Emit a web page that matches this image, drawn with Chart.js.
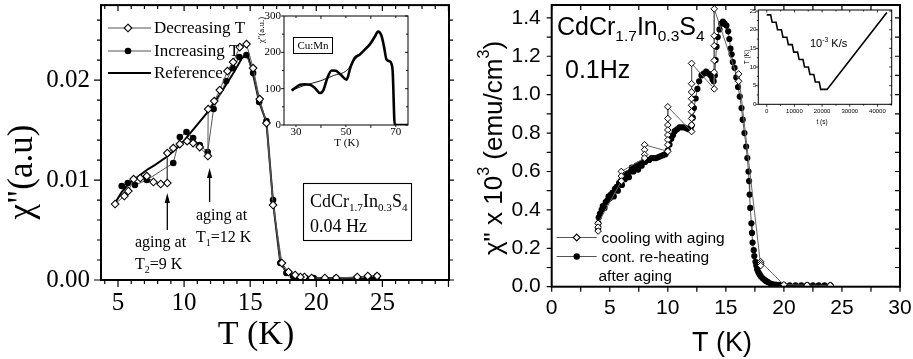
<!DOCTYPE html>
<html>
<head>
<meta charset="utf-8">
<script src="https://cdn.jsdelivr.net/npm/chart.js@4.4.1/dist/chart.umd.min.js"></script>
<style>
html,body{margin:0;padding:0;background:#fff;}
body{width:913px;height:359px;position:relative;overflow:hidden;}
canvas{position:absolute;display:block;}
</style>
</head>
<body>
<canvas id="leftMain" width="455" height="359" style="left:0;top:0;"></canvas>
<canvas id="leftInset" width="165" height="140" style="left:250px;top:10px;"></canvas>
<canvas id="rightMain" width="458" height="359" style="left:455px;top:0;"></canvas>
<canvas id="rightInset" width="165" height="125" style="left:735px;top:5px;"></canvas>
<script>
// ---------------- LEFT PANEL DATA (CdCr1.7In0.3S4, 0.04 Hz) ----------------
const decT   = [24.6,23.9,23.1,21.5,20.65,19.65,19.1,18.8,18.4,17.9,17.4,16.73,16.23,15.72,15.22,14.72,14.21,13.71,13.28,12.7,12.28,11.82,11.8,11.18,10.68,10.23,9.68,9.18,8.73,8.73,8.23,7.68,7.18,6.68,6.18,5.78,5.48,4.78];
const decChi = [0.0004,0.0004,0.0003,0.0002,0.0002,0.0002,0.0003,0.0003,0.0005,0.0008,0.0017,0.0075,0.0157,0.0181,0.0212,0.0236,0.0233,0.0218,0.0209,0.0190,0.0179,0.0171,0.0124,0.0133,0.0137,0.0139,0.0136,0.0132,0.0127,0.0097,0.0096,0.0098,0.0104,0.0102,0.0101,0.0089,0.0084,0.0076];
const incT   = [5.28,5.74,6.28,7.18,9.18,9.68,10.18,10.68,11.18,11.78,12.23,13.18,13.68,14.18,14.72,15.22,15.68,16.23,16.73,17.28,17.74,18.23,18.68,19.18,19.8,21.5,23.1,23.9,24.6];
const incChi = [0.0094,0.0097,0.0095,0.0100,0.0117,0.0143,0.0148,0.0142,0.0135,0.0128,0.0171,0.0199,0.0212,0.0223,0.0225,0.0207,0.0178,0.0159,0.0080,0.0017,0.0007,0.0004,0.0003,0.0002,0.0002,0.0002,0.0002,0.0003,0.0004];
const refT   = [4.78,5.28,5.78,6.78,7.28,7.78,8.78,9.78,10.78,11.78,12.78,13.78,14.38,14.78,15.18,15.68,16.23,16.73,17.28,17.78,18.78,19.8,21.8,24.8];
const refChi = [0.0077,0.0088,0.0096,0.0106,0.0111,0.0115,0.0124,0.0136,0.0152,0.0168,0.0187,0.0208,0.0222,0.0226,0.0208,0.0178,0.0158,0.0078,0.0017,0.0007,0.0003,0.0002,0.0002,0.0002];
const leftXTicks = [5,10,15,20,25];
const leftYTicks = [0,0.01,0.02];

// ---------------- LEFT INSET DATA (Cu:Mn) ----------------
const cumnT      = [28.3,30,31.6,33.5,35.6,37.6,39.6,41,42.5,44.3,46,48,50.3,51.8,53.6,55.6,57.5,59.6,61.5,62.9,64.3,65.3,66.3,67.6,68.7,69.6,72,75];
const cumnChi    = [95,104,111,112,111,102,88,96,128,150,149,138,125,158,185,194,207,222,242,257,245,215,180,175,153,0,0,0];
const cumnRefT   = [28.3,33,40,45,50.3,53.6,56,60,62.9];
const cumnRefChi = [95,108,122,136,150,180,196,225,257];
const cumnXTicks = [30,50,70];
const cumnYTicks = [0,100,200,300];

// ---------------- RIGHT PANEL DATA (0.1 Hz) ----------------
const coolT   = [24.0,24.0,22.0,20.0,18.0,18.0,18.0,16.1,16.1,14.0,14.0,14.0,14.0,14.0,14.0,12.05,12.05,12.05,12.05,12.05,12.05,12.05,12.05,12.05,10.0,10.0,10.0,10.0,10.0,10.0,10.0,10.0,8.0,8.0,8.0,8.0,6.0,6.0,6.0,4.0,4.0,4.0];
const coolChi = [0.008,0.007,0.008,0.010,0.13,0.12,0.11,1.108,1.07,1.447,1.307,1.255,1.178,1.117,1.03,1.163,1.057,1.014,0.979,0.945,0.911,0.876,0.842,0.808,0.937,0.876,0.842,0.816,0.79,0.765,0.739,0.705,0.739,0.713,0.688,0.67,0.60,0.576,0.55,0.33,0.31,0.29];
const heatT   = [4.00,4.02,4.05,4.15,4.30,4.40,4.55,4.65,4.80,4.90,5.00,5.10,5.25,5.35,5.45,5.60,5.70,5.80,5.95,6.05,6.15,6.30,6.40,6.55,6.65,6.80,6.90,7.05,7.15,7.30,7.45,7.60,7.75,7.90,8.05,8.20,8.40,8.60,8.80,9.00,9.20,9.40,9.60,9.80,10.00,10.15,10.30,10.45,10.60,10.80,11.00,11.20,11.40,11.60,11.80,11.95,12.05,12.15,12.25,12.40,12.55,12.70,12.90,13.10,13.30,13.50,13.70,13.85,13.95,14.05,14.12,14.20,14.30,14.45,14.60,14.75,14.90,15.05,15.20,15.30,15.40,15.50,15.60,15.75,15.90,16.05,16.20,16.35,16.45,16.60,16.75,16.85,16.95,17.00,17.05,17.10,17.20,17.25,17.30,17.40,17.45,17.55,17.62,17.70,17.80,17.90,18.00,18.15,18.30,18.45,18.60,18.80,19.00,19.30,19.60,20.00,20.50,21.00,21.50,22.00,22.50,23.00,23.50,24.00];
const heatChi = [0.30,0.33,0.36,0.38,0.40,0.42,0.41,0.44,0.45,0.47,0.46,0.48,0.49,0.47,0.51,0.52,0.50,0.54,0.55,0.53,0.57,0.56,0.58,0.59,0.57,0.60,0.62,0.60,0.62,0.63,0.61,0.64,0.63,0.65,0.65,0.66,0.66,0.67,0.67,0.67,0.675,0.68,0.685,0.69,0.71,0.74,0.77,0.79,0.81,0.82,0.83,0.83,0.83,0.825,0.82,0.82,0.84,0.88,0.93,0.98,1.03,1.07,1.10,1.11,1.12,1.11,1.10,1.08,1.07,1.10,1.18,1.25,1.30,1.34,1.37,1.38,1.37,1.36,1.33,1.29,1.24,1.21,1.17,1.14,1.09,1.04,0.99,0.93,0.87,0.80,0.73,0.67,0.60,0.55,0.48,0.41,0.33,0.28,0.23,0.19,0.16,0.13,0.11,0.09,0.075,0.065,0.055,0.045,0.037,0.030,0.025,0.018,0.014,0.011,0.009,0.008,0.007,0.007,0.007,0.008,0.007,0.007,0.007,0.007];
const rightXTicks = [0,5,10,15,20,25,30];
const rightYTicks = [0,0.2,0.4,0.6,0.8,1.0,1.2,1.4];

// ---------------- RIGHT INSET DATA (temperature protocol) ----------------
const protTime = [0,1400,1950,3350,3900,5300,5850,7250,7800,9200,9750,11150,11700,13100,13650,15050,15600,17000,17550,18950,19500,21800,43400];
const protTemp = [24,24,22,22,20,20,18,18,16,16,14,14,12,12,10,10,8,8,6,6,4,4,24.6];
const protXTicks = [0,10000,20000,30000,40000];
const protYTicks = [0,5,10,15,20,25];

// ---------------- helpers ----------------
const SERIF = '"Liberation Serif", "Times New Roman", serif';
const SANS  = '"Liberation Sans", Arial, Helvetica, sans-serif';
Chart.defaults.color = '#000';

function pts(xs, ys){ return xs.map((x,i)=>({x:x, y:ys[i]})); }

function frame(chart, lw){
  const c = chart.ctx, a = chart.chartArea;
  c.save(); c.strokeStyle = '#000'; c.lineWidth = lw;
  c.strokeRect(a.left, a.top, a.right - a.left, a.bottom - a.top);
  c.restore();
}
function edgeTicks(chart, axis, edge, start, step, count, len, inward, majorStep, majorLen, lw){
  const c = chart.ctx, a = chart.chartArea, sc = chart.scales[axis];
  c.save(); c.strokeStyle = '#000'; c.lineWidth = lw || 1.2; c.beginPath();
  const d = inward ? -1 : 1;
  for (let i = 0; i < count; i++){
    const v = start + i*step;
    let L = len;
    if (majorStep){ const r = v/majorStep; if (Math.abs(r - Math.round(r)) < 1e-6) L = majorLen; }
    const p = sc.getPixelForValue(v);
    if (edge === 'bottom'){ c.moveTo(p, a.bottom); c.lineTo(p, a.bottom + d*L); }
    else if (edge === 'top'){ c.moveTo(p, a.top); c.lineTo(p, a.top - d*L); }
    else if (edge === 'left'){ c.moveTo(a.left, p); c.lineTo(a.left - d*L, p); }
    else { c.moveTo(a.right, p); c.lineTo(a.right + d*L, p); }
  }
  c.stroke(); c.restore();
}
function rich(c, x, y, parts, family, size, align){
  const small = size*0.62;
  let total = 0;
  const segs = parts.map(p => { const fs = p[1] ? small : size; c.font = fs + 'px ' + family; const w = c.measureText(p[0]).width; total += w; return {t:p[0], m:p[1], fs:fs, w:w}; });
  let cx = align === 'center' ? x - total/2 : x;
  c.textAlign = 'left';
  for (const s of segs){
    c.font = s.fs + 'px ' + family;
    const dy = s.m === 'sub' ? size*0.22 : (s.m === 'sup' ? -size*0.40 : 0);
    c.fillText(s.t, cx, y + dy);
    cx += s.w;
  }
}
function diamond(c, x, y, r){
  c.beginPath(); c.moveTo(x, y - r); c.lineTo(x + r, y); c.lineTo(x, y + r); c.lineTo(x - r, y); c.closePath();
  c.fillStyle = '#fff'; c.fill(); c.strokeStyle = '#000'; c.lineWidth = 1.1; c.stroke();
}
function dot(c, x, y, r){
  c.beginPath(); c.arc(x, y, r, 0, Math.PI*2); c.fillStyle = '#000'; c.fill();
}
function arrowUp(c, x, yTail, yTip){
  c.save(); c.strokeStyle = '#000'; c.fillStyle = '#000'; c.lineWidth = 1.3;
  c.beginPath(); c.moveTo(x, yTail); c.lineTo(x, yTip + 6); c.stroke();
  c.beginPath(); c.moveTo(x, yTip); c.lineTo(x - 2.6, yTip + 10); c.lineTo(x + 2.6, yTip + 10); c.closePath(); c.fill();
  c.restore();
}
function whiteArea(){ return { id:'whiteArea', beforeDraw(chart){ const c = chart.ctx, a = chart.chartArea; c.save(); c.fillStyle = '#fff'; c.fillRect(a.left, a.top, a.right - a.left, a.bottom - a.top); c.restore(); } }; }
function baseOpts(pad){
  return { responsive:false, animation:false, devicePixelRatio:1, layout:{padding:pad},
    plugins:{legend:{display:false}, tooltip:{enabled:false}}, events:[] };
}
function axis(min, max, tickVals, fixed, isY, font, pad, fmt){
  const o = { type:'linear', min:min, max:max,
    grid:{display:false, drawTicks:false}, border:{display:false},
    afterBuildTicks: s => { s.ticks = tickVals.map(v => ({value:v})); },
    ticks:{font:font, color:'#000', padding:pad, autoSkip:false, maxRotation:0, minRotation:0, callback: fmt} };
  o.afterFit = s => {
    if (isY) s.width = fixed; else s.height = fixed;
    s.paddingTop = 0; s.paddingBottom = 0; s.paddingLeft = 0; s.paddingRight = 0;
  };
  return o;
}

// ---------------- LEFT MAIN CHART ----------------
new Chart(document.getElementById('leftMain'), {
  type:'line',
  data:{ datasets:[
    {data:pts(decT, decChi), borderColor:'#555', borderWidth:1, pointStyle:'rectRot', pointRadius:3.8, pointBackgroundColor:'#fff', pointBorderColor:'#000', pointBorderWidth:1.1, tension:0},
    {data:pts(incT, incChi), borderColor:'#555', borderWidth:1, pointStyle:'circle', pointRadius:3.3, pointBackgroundColor:'#000', pointBorderColor:'#000', pointBorderWidth:0, tension:0},
    {data:pts(refT, refChi), borderColor:'#000', borderWidth:2, pointRadius:0, tension:0}
  ]},
  options: Object.assign(baseOpts({left:0, top:5, right:6, bottom:0}), {
    scales:{
      x: axis(3.714, 30.04, leftXTicks, 79, false, {family:SERIF, size:25}, 8, v => String(v)),
      y: axis(0, 0.0275, leftYTicks, 101, true, {family:SERIF, size:25}, 11, v => v.toFixed(2))
    }
  }),
  plugins:[{ id:'leftDeco', afterDraw(chart){
    const c = chart.ctx, xs = chart.scales.x, ys = chart.scales.y;
    frame(chart, 2);
    edgeTicks(chart, 'x', 'bottom', 4, 1, 27, 4, false, 5, 7);
    edgeTicks(chart, 'x', 'top', 4, 1, 27, 4, true, 5, 6);
    edgeTicks(chart, 'y', 'left', 0, 0.002, 14, 4, false, 0.01, 7);
    edgeTicks(chart, 'y', 'right', 0, 0.002, 14, 4, false, 0.01, 5);
    c.save(); c.fillStyle = '#000';
    c.save(); c.translate(23, 172); c.rotate(-Math.PI/2);
    c.font = '35px ' + SERIF; c.textAlign = 'center'; c.textBaseline = 'middle';
    c.fillText('χ"(a.u)', 0, 0); c.restore();
    c.font = '34px ' + SERIF; c.textAlign = 'center'; c.textBaseline = 'alphabetic';
    c.fillText('T (K)', 256, 344);
    const rows = [[28,'Decreasing T','d'],[51,'Increasing T','c'],[73,'Reference','r']];
    for (const r of rows){
      c.beginPath(); c.moveTo(108, r[0]); c.lineTo(151, r[0]);
      c.strokeStyle = r[2] === 'r' ? '#000' : '#555'; c.lineWidth = r[2] === 'r' ? 2 : 1; c.stroke();
      if (r[2] === 'd') diamond(c, 128, r[0], 3.8);
      if (r[2] === 'c') dot(c, 128, r[0], 3.3);
      c.fillStyle = '#000'; c.font = '17px ' + SERIF; c.textAlign = 'left'; c.textBaseline = 'middle';
      c.fillText(r[1], 154, r[0] + 1);
    }
    arrowUp(c, xs.getPixelForValue(8.73), ys.getPixelForValue(0.005), ys.getPixelForValue(0.0087));
    arrowUp(c, xs.getPixelForValue(11.93), ys.getPixelForValue(0.0078), ys.getPixelForValue(0.0112));
    c.fillStyle = '#000'; c.textBaseline = 'alphabetic';
    c.font = '16px ' + SERIF; c.textAlign = 'left';
    c.fillText('aging at', 135, 247);
    rich(c, 135, 269, [['T',''],['2','sub'],['=9 K','']], SERIF, 16, 'left');
    c.font = '16px ' + SERIF; c.fillText('aging at', 196, 220);
    rich(c, 196, 242, [['T',''],['1','sub'],['=12 K','']], SERIF, 16, 'left');
    c.strokeStyle = '#000'; c.lineWidth = 1.1; c.strokeRect(303.5, 183.5, 108, 57);
    rich(c, 310, 207, [['CdCr',''],['1.7','sub'],['In',''],['0.3','sub'],['S',''],['4','sub']], SERIF, 18, 'left');
    c.font = '18px ' + SERIF; c.textAlign = 'left'; c.fillText('0.04 Hz', 310, 232);
    c.restore();
  }}]
});

// ---------------- LEFT INSET CHART (Cu:Mn) ----------------
new Chart(document.getElementById('leftInset'), {
  type:'line',
  data:{ datasets:[
    {data:pts(cumnT, cumnChi), borderColor:'#000', borderWidth:2.6, pointRadius:0, cubicInterpolationMode:'monotone'},
    {data:pts(cumnRefT, cumnRefChi), borderColor:'#000', borderWidth:0.9, pointRadius:0, cubicInterpolationMode:'monotone'}
  ]},
  options: Object.assign(baseOpts({left:0, top:6, right:7, bottom:0}), {
    scales:{
      x: axis(25.2, 74.9, cumnXTicks, 25, false, {family:SERIF, size:11}, 1, v => String(v)),
      y: axis(0, 300, cumnYTicks, 34, true, {family:SERIF, size:11}, 3, v => String(v))
    }
  }),
  plugins:[whiteArea(), { id:'insetL', afterDraw(chart){
    const c = chart.ctx;
    frame(chart, 1);
    edgeTicks(chart, 'x', 'bottom', 30, 10, 5, 2, false, 20, 3, 0.9);
    edgeTicks(chart, 'x', 'top', 30, 10, 5, 2, true, 20, 3, 0.9);
    edgeTicks(chart, 'y', 'left', 0, 50, 7, 2, false, 100, 3, 0.9);
    edgeTicks(chart, 'y', 'right', 0, 50, 7, 2, true, 100, 3, 0.9);
    c.save(); c.fillStyle = '#000';
    c.save(); c.translate(12, 20); c.rotate(-Math.PI/2);
    c.font = '9px ' + SERIF; c.textAlign = 'center'; c.textBaseline = 'middle';
    c.fillText('χ"(a.u.)', 0, 0); c.restore();
    c.font = '11px ' + SERIF; c.textAlign = 'center'; c.textBaseline = 'alphabetic';
    c.fillText('T (K)', 96.7, 136);
    c.strokeStyle = '#000'; c.lineWidth = 1; c.strokeRect(43.5, 27.5, 39, 16);
    c.font = '11px ' + SERIF; c.textBaseline = 'middle'; c.fillText('Cu:Mn', 63, 36);
    c.restore();
  }}]
});

// ---------------- RIGHT MAIN CHART ----------------
new Chart(document.getElementById('rightMain'), {
  type:'line',
  data:{ datasets:[
    {data:pts(coolT, coolChi), borderColor:'#666', borderWidth:1, pointStyle:'rectRot', pointRadius:3.3, pointBackgroundColor:'#fff', pointBorderColor:'#000', pointBorderWidth:1, tension:0},
    {data:pts(heatT, heatChi), borderColor:'#555', borderWidth:1, pointStyle:'circle', pointRadius:3.1, pointBackgroundColor:'#000', pointBorderColor:'#000', pointBorderWidth:0, tension:0}
  ]},
  options: Object.assign(baseOpts({left:0, top:2, right:13, bottom:0}), {
    scales:{
      x: axis(0, 30, rightXTicks, 72.3, false, {family:SANS, size:21}, 9, v => String(v)),
      y: axis(0, 1.467, rightYTicks, 96.7, true, {family:SANS, size:21}, 11, v => v.toFixed(1))
    }
  }),
  plugins:[{ id:'rightDeco', afterDraw(chart){
    const c = chart.ctx;
    frame(chart, 2);
    edgeTicks(chart, 'x', 'bottom', 0, 2.5, 13, 5, false);
    edgeTicks(chart, 'x', 'top', 0, 2.5, 13, 5, true);
    edgeTicks(chart, 'y', 'left', 0, 0.1, 15, 5, false);
    edgeTicks(chart, 'y', 'right', 0, 0.1, 15, 5, true);
    c.save(); c.fillStyle = '#000';
    c.save(); c.translate(40, 148); c.rotate(-Math.PI/2); c.textBaseline = 'middle';
    rich(c, 0, 0, [['χ" x 10',''],['3','sup'],[' (emu/cm',''],['3','sup'],[')','']], SANS, 26, 'center');
    c.restore();
    c.textBaseline = 'alphabetic'; c.font = '27px ' + SANS; c.textAlign = 'center';
    c.fillText('T (K)', 267, 351);
    rich(c, 102, 35, [['CdCr',''],['1.7','sub'],['In',''],['0.3','sub'],['S',''],['4','sub']], SANS, 25, 'left');
    c.font = '25px ' + SANS; c.textAlign = 'left'; c.fillText('0.1Hz', 110, 78);
    const rows = [[237.5,'cooling with aging','d'],[256.5,'cont. re-heating','c']];
    for (const r of rows){
      c.beginPath(); c.moveTo(101.7, r[0]); c.lineTo(141.7, r[0]); c.strokeStyle = '#555'; c.lineWidth = 1; c.stroke();
      if (r[2] === 'd') diamond(c, 121.7, r[0], 3.4); else dot(c, 121.7, r[0], 3.2);
      c.fillStyle = '#000'; c.font = '15.5px ' + SANS; c.textAlign = 'left'; c.textBaseline = 'middle';
      c.fillText(r[1], 146.5, r[0] + 1);
    }
    c.fillText('after aging', 143.5, 277);
    c.restore();
  }}]
});

// ---------------- RIGHT INSET CHART (T vs t) ----------------
new Chart(document.getElementById('rightInset'), {
  type:'line',
  data:{ datasets:[
    {data:pts(protTime, protTemp), borderColor:'#000', borderWidth:1.6, pointRadius:0, tension:0}
  ]},
  options: Object.assign(baseOpts({left:0, top:5, right:8.3, bottom:0}), {
    scales:{
      x: axis(-3060, 45150, protXTicks, 25.7, false, {family:SANS, size:6}, 3, v => String(v)),
      y: axis(0, 25.3, protYTicks, 23.3, true, {family:SANS, size:6}, 2, v => String(v))
    }
  }),
  plugins:[whiteArea(), { id:'insetR', afterDraw(chart){
    const c = chart.ctx;
    frame(chart, 1);
    edgeTicks(chart, 'x', 'bottom', 0, 5000, 10, 1.5, false, 10000, 2.5, 0.8);
    edgeTicks(chart, 'x', 'top', 0, 5000, 10, 1.5, true, 10000, 2.5, 0.8);
    edgeTicks(chart, 'y', 'left', 0, 2.5, 11, 1.5, false, 5, 2.5, 0.8);
    edgeTicks(chart, 'y', 'right', 0, 2.5, 11, 1.5, true, 5, 2.5, 0.8);
    c.save(); c.fillStyle = '#000';
    c.save(); c.translate(12, 52); c.rotate(-Math.PI/2);
    c.font = '6.5px ' + SANS; c.textAlign = 'center'; c.textBaseline = 'middle';
    c.fillText('T (K)', 0, 0); c.restore();
    c.font = '6.5px ' + SANS; c.textAlign = 'center'; c.textBaseline = 'middle';
    c.fillText('t (s)', 87, 117);
    c.textBaseline = 'alphabetic';
    rich(c, 75, 41.5, [['10',''],['-3','sup'],[' K/s','']], SANS, 11, 'left');
    c.restore();
  }}]
});
</script>
</body>
</html>
